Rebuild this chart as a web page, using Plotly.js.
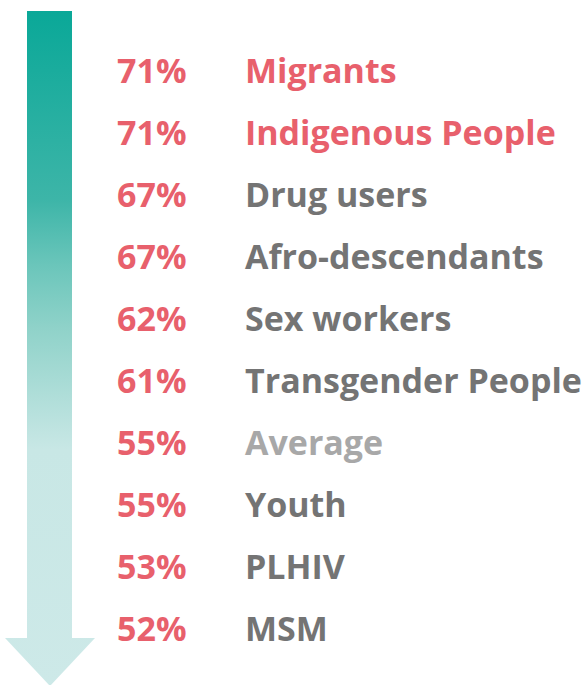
<!DOCTYPE html>
<html>
<head>
<meta charset="utf-8">
<script src="https://cdn.plot.ly/plotly-3.0.1.min.js"></script>
<style>html,body{margin:0;padding:0;background:#fff;}#chart{width:586px;height:685px;}</style>
</head>
<body>
<div id="chart"></div>
<script>
// Data
const groups = ["Migrants","Indigenous People","Drug users","Afro-descendants","Sex workers","Transgender People","Average","Youth","PLHIV","MSM"];
const values = [71,71,67,67,62,61,55,55,53,52];
const highlighted = ["Migrants","Indigenous People"];
const averageLabel = "Average";

// Styles
const RED = "#e8606c";
const GRAY = "#747474";
const LIGHTGRAY = "#a8a8a8";
const FONT = "'Open Sans', Lato, sans-serif";
const W = 586, H = 685;
const rowTop = 74, rowStep = 62.1;

const rowY = groups.map((g,i) => H - (rowTop + i*rowStep));
const labelColors = groups.map(g => highlighted.includes(g) ? RED : (g === averageLabel ? LIGHTGRAY : GRAY));

// Arrow (decoration) in pixel-like coordinates
const arrowX = [27,72,72,95,50,5,27,27];
const arrowY = [H-11,H-11,H-638,H-638,H-686,H-638,H-638,H-11];

const arrow = {
  x: arrowX, y: arrowY, mode: "lines", fill: "toself",
  line: {width: 0, color: "rgba(0,0,0,0)"},
  fillgradient: {
    type: "vertical", start: 0, stop: H-11,
    colorscale: [[0,"#cde9e8"],[0.35,"#c8e7e5"],[0.53,"#8fd2c9"],[0.62,"#6cc6bb"],[0.72,"#3db5a8"],[1,"#0aa898"]]
  },
  hoverinfo: "skip", showlegend: false
};

const pct = {
  x: groups.map(() => 117), y: rowY, mode: "text",
  text: values.map(v => v + "%"), textposition: "middle right",
  textfont: {family: FONT, size: 34, weight: "bold", color: RED},
  hoverinfo: "skip", showlegend: false
};

const labels = {
  x: groups.map(() => 245), y: rowY, mode: "text",
  text: groups, textposition: "middle right",
  textfont: {family: FONT, size: 34, weight: "bold", color: labelColors},
  hoverinfo: "skip", showlegend: false
};

Plotly.newPlot("chart", [arrow, pct, labels], {
  width: W, height: H,
  margin: {l:0, r:0, t:0, b:0},
  paper_bgcolor: "#ffffff", plot_bgcolor: "#ffffff",
  xaxis: {range: [0, W], visible: false, fixedrange: true},
  yaxis: {range: [0, H], visible: false, fixedrange: true},
  showlegend: false
}, {displayModeBar: false, staticPlot: true});
</script>
</body>
</html>
